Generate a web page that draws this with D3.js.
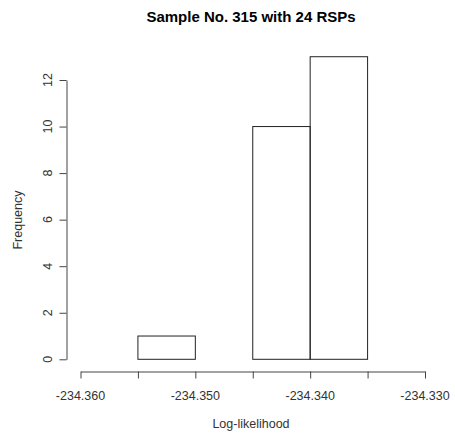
<!DOCTYPE html>
<html>
<head>
<meta charset="utf-8">
<script src="https://cdn.jsdelivr.net/npm/d3@7"></script>
<style>
  body { margin: 0; background: #fff; }
  text { font-family: "Liberation Sans", Arial, sans-serif; }
</style>
</head>
<body>
<script>
// histogram bins (lower edge, upper edge) and counts
const binStarts = [-234.355, -234.350, -234.345, -234.340];
const binWidth = 0.005;
const counts = [1, 0, 10, 13];
const xTicks = [-234.360, -234.355, -234.350, -234.345, -234.340, -234.335, -234.330];
const xLabels = [-234.360, -234.350, -234.340, -234.330];
const yTicks = [0, 2, 4, 6, 8, 10, 12];

const W = 455, H = 437;
const svg = d3.select("body").append("svg").attr("width", W).attr("height", H);

const x = d3.scaleLinear().domain([-234.360, -234.330]).range([80.5, 425]);
const y = d3.scaleLinear().domain([0, 12]).range([359.3, 80]);

const axisCol = "#444";
const fmt = d => d.toFixed(3); // plain hyphen minus like R

// bars
svg.selectAll("rect.bar")
  .data(counts)
  .join("rect")
  .attr("class", "bar")
  .attr("x", (d, i) => x(binStarts[i]))
  .attr("width", (d, i) => x(binStarts[i] + binWidth) - x(binStarts[i]))
  .attr("y", d => y(d))
  .attr("height", d => y(0) - y(d))
  .attr("fill", "none")
  .attr("stroke", "#222")
  .attr("stroke-width", 1);

// x axis
const gx = svg.append("g").attr("transform", "translate(0,371.5)");
gx.call(d3.axisBottom(x).tickValues(xTicks).tickSize(7).tickSizeOuter(0).tickFormat(""));
gx.selectAll("line, path").attr("stroke", axisCol);
gx.selectAll(".tick text").remove();
gx.selectAll("text.lab")
  .data(xLabels)
  .join("text")
  .attr("class", "lab")
  .attr("x", d => x(d))
  .attr("y", 28)
  .attr("text-anchor", "middle")
  .attr("fill", "#333")
  .attr("font-size", 12.5)
  .text(fmt);

// y axis
const gy = svg.append("g").attr("transform", "translate(66.5,0)");
gy.call(d3.axisLeft(y).tickValues(yTicks).tickSize(7).tickSizeOuter(0).tickFormat(""));
gy.selectAll("line, path").attr("stroke", axisCol);
gy.selectAll(".tick text").remove();
gy.selectAll("text.lab")
  .data(yTicks)
  .join("text")
  .attr("class", "lab")
  .attr("transform", d => `translate(-15,${y(d)}) rotate(-90)`)
  .attr("text-anchor", "middle")
  .attr("fill", "#333")
  .attr("font-size", 12.5)
  .text(d => d);

// titles
svg.append("text")
  .attr("x", 251).attr("y", 21.5)
  .attr("text-anchor", "middle")
  .attr("font-size", 15)
  .attr("font-weight", "bold")
  .attr("fill", "#000")
  .text("Sample No. 315 with 24 RSPs");

svg.append("text")
  .attr("x", 251).attr("y", 428)
  .attr("text-anchor", "middle")
  .attr("font-size", 12.5)
  .attr("fill", "#333")
  .text("Log-likelihood");

svg.append("text")
  .attr("transform", "translate(22,220) rotate(-90)")
  .attr("text-anchor", "middle")
  .attr("font-size", 12.5)
  .attr("fill", "#333")
  .text("Frequency");
</script>
</body>
</html>
